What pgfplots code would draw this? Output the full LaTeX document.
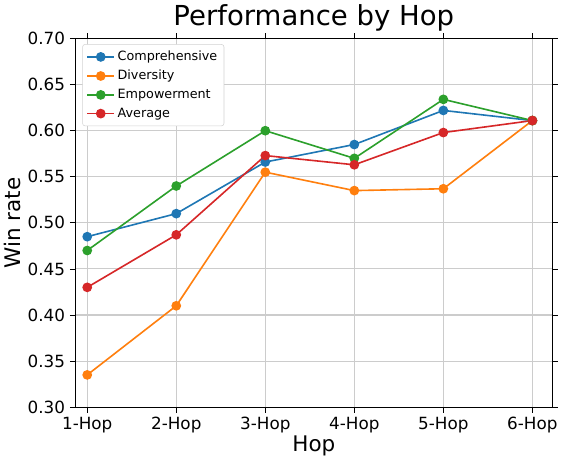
\documentclass[border=0pt]{standalone}
\usepackage{pgfplots}
\pgfplotsset{compat=1.18}
\usepackage{fontspec}
\setmainfont{DejaVu Sans}
\definecolor{tabblue}{HTML}{1F77B4}
\definecolor{taborange}{HTML}{FF7F0E}
\definecolor{tabgreen}{HTML}{2CA02C}
\definecolor{tabred}{HTML}{D62728}
\begin{document}
\begin{tikzpicture}
\begin{axis}[
  scale only axis,
  width=355.5pt, height=274.5pt,
  xmin=-0.136, xmax=5.226,
  ymin=0.30, ymax=0.70,
  xtick={0,1,2,3,4,5},
  xticklabels={1-Hop,2-Hop,3-Hop,4-Hop,5-Hop,6-Hop},
  ytick={0.30,0.35,0.40,0.45,0.50,0.55,0.60,0.65,0.70},
  yticklabel style={/pgf/number format/.cd, fixed, fixed zerofill, precision=2},
  /pgf/number format/assume math mode=true,
  ticklabel style={font=\fontsize{12.5}{15}\selectfont},
  grid=major,
  major grid style={gray!40, line width=0.8pt},
  tick align=outside,
  major tick length=4pt,
  tick style={black, line width=0.6pt},
  axis line style={line width=0.6pt},
  xlabel={Hop}, ylabel={Win rate},
  label style={font=\fontsize{16}{19}\selectfont},
  xlabel style={yshift=5pt},
  ylabel style={yshift=-2pt},
  title={Performance by Hop},
  title style={font=\fontsize{20.5}{24}\selectfont, yshift=-4pt},
  legend style={font=\fontsize{9.5}{11.5}\selectfont, draw=gray!35, rounded corners=2pt, at={(0.015,0.985)}, anchor=north west, row sep=1.5pt, inner sep=3pt},
  legend cell align=left,
  legend image code/.code={\draw[mark repeat=2,mark phase=2] plot coordinates {(0cm,0cm) (0.35cm,0cm) (0.7cm,0cm)};},
  every axis plot/.append style={line width=1.2pt, mark=*, mark size=3pt},
]
\addplot[tabblue, mark options={fill=tabblue}] coordinates {(0,0.485) (1,0.510) (2,0.566) (3,0.585) (4,0.622) (5,0.611)};
\addlegendentry{Comprehensive}
\addplot[taborange, mark options={fill=taborange}] coordinates {(0,0.335) (1,0.410) (2,0.555) (3,0.535) (4,0.537) (5,0.611)};
\addlegendentry{Diversity}
\addplot[tabgreen, mark options={fill=tabgreen}] coordinates {(0,0.470) (1,0.540) (2,0.600) (3,0.570) (4,0.634) (5,0.611)};
\addlegendentry{Empowerment}
\addplot[tabred, mark options={fill=tabred}] coordinates {(0,0.430) (1,0.487) (2,0.573) (3,0.563) (4,0.598) (5,0.611)};
\addlegendentry{Average}
\end{axis}
\end{tikzpicture}
\end{document}
